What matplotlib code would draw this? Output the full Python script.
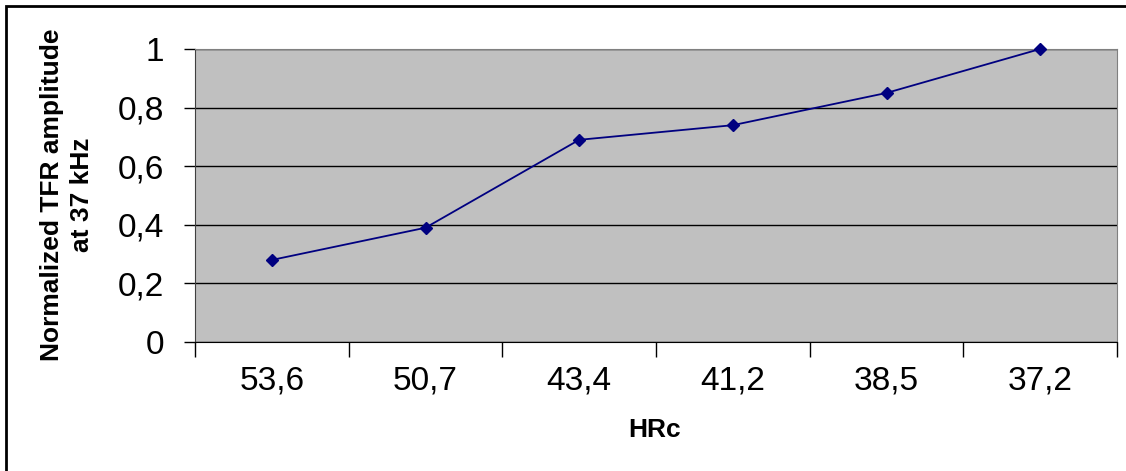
import matplotlib.pyplot as plt
from matplotlib.patches import Rectangle

# --- data ---
hrc_labels = ["53,6", "50,7", "43,4", "41,2", "38,5", "37,2"]
amplitude = [0.28, 0.39, 0.69, 0.74, 0.85, 1.0]
y_ticks = [0, 0.2, 0.4, 0.6, 0.8, 1.0]
y_tick_labels = ["0", "0,2", "0,4", "0,6", "0,8", "1"]

plt.rcParams['font.family'] = ['Liberation Sans', 'DejaVu Sans']

fig = plt.figure(figsize=(11.26, 4.71), dpi=100)
ax = fig.add_axes([195 / 1126, 1 - 342 / 471, 922 / 1126, 293 / 471])

# outer chart border (Excel-style frame)
fig.patches.append(Rectangle((6 / 1126, -0.05), 1.2, 1 - 6 / 471 + 0.05,
                             transform=fig.transFigure, fill=False,
                             edgecolor='black', linewidth=2))

ax.set_facecolor('#C0C0C0')
x = [i + 0.5 for i in range(len(hrc_labels))]
ax.plot(x, amplitude, color='#000080', marker='D', markersize=6, linewidth=1.3,
        zorder=3, clip_on=False)

ax.set_xlim(0, len(hrc_labels))
ax.set_ylim(0, 1)
ax.set_yticks(y_ticks)
ax.set_yticklabels(y_tick_labels, fontsize=24)
ax.yaxis.grid(True, color='black', linewidth=1)
ax.set_axisbelow(True)

# category boundaries as ticks, labels centred between
ax.set_xticks(range(len(hrc_labels) + 1))
ax.set_xticklabels([])
ax.set_xticks(x, minor=True)
ax.set_xticklabels(hrc_labels, minor=True, fontsize=24)
ax.tick_params(axis='x', which='minor', length=0, pad=17)
ax.tick_params(axis='x', which='major', length=11, width=1, direction='out')
ax.tick_params(axis='y', length=8, width=1, direction='out', pad=14)

ax.spines['left'].set_color('#404040')
ax.spines['bottom'].set_color('black')
for s in ['top', 'right']:
    ax.spines[s].set_color('#808080')

fig.text(655 / 1126, 1 - 430 / 471, "HRc", fontsize=19, fontweight='bold',
         ha='center', va='center')
fig.text(67 / 1126, 1 - 195 / 471, "Normalized TFR amplitude\nat 37 kHz",
         fontsize=19, fontweight='bold', rotation=90, ha='center', va='center',
         multialignment='center', linespacing=1.3)

plt.savefig("out.png", dpi=100)
